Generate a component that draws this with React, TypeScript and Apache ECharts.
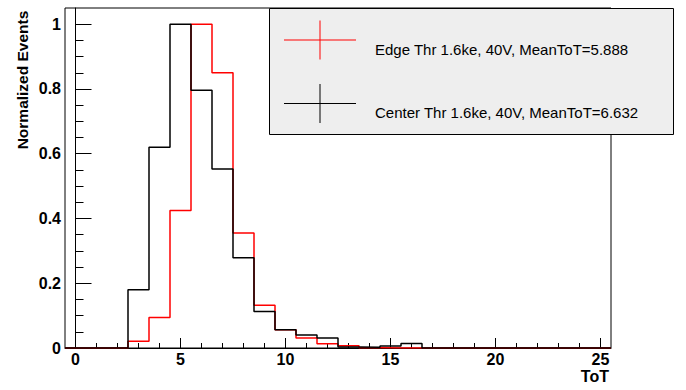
import React, { useEffect, useRef } from "react";
import * as echarts from "echarts";

// Bin centres (bin width 1, edges at half-integers)
const binCenters = [0, 1, 2, 3, 4, 5, 6, 7, 8, 9, 10, 11, 12, 13, 14, 15, 16, 17, 18, 19, 20, 21, 22, 23, 24, 25];
const edgeValues = [0, 0, 0, 0.021, 0.094, 0.425, 1.0, 0.85, 0.355, 0.132, 0.056, 0.031, 0.013, 0.007, 0.001, 0, 0, 0, 0, 0, 0, 0, 0, 0, 0, 0];
const centerValues = [0, 0, 0, 0.18, 0.62, 1.0, 0.796, 0.553, 0.279, 0.113, 0.056, 0.04, 0.031, 0.003, 0.002, 0.006, 0.014, 0, 0, 0, 0, 0, 0, 0, 0, 0];

const xMajorTicks = [0, 5, 10, 15, 20, 25];
const xMinorTicks = [0, 1, 2, 3, 4, 5, 6, 7, 8, 9, 10, 11, 12, 13, 14, 15, 16, 17, 18, 19, 20, 21, 22, 23, 24, 25];
const yMajorTicks = [0, 0.2, 0.4, 0.6, 0.8, 1];
const yMinorTicks = [0, 0.05, 0.1, 0.15, 0.2, 0.25, 0.3, 0.35, 0.4, 0.45, 0.5, 0.55, 0.6, 0.65, 0.7, 0.75, 0.8, 0.85, 0.9, 0.95, 1];

const legendLabels = ["Edge Thr 1.6ke, 40V, MeanToT=5.888", "Center Thr 1.6ke, 40V, MeanToT=6.632"];
const seriesColors = ["#ff0000", "#000000"];

const X_MIN = -0.5;
const X_MAX = 25.5;
const Y_MIN = 0;
const Y_MAX = 1.05;

function toSteps(values: number[]): number[][] {
  const pts: number[][] = [[X_MIN, 0]];
  values.forEach((v, i) => {
    pts.push([binCenters[i] - 0.5, v]);
    pts.push([binCenters[i] + 0.5, v]);
  });
  pts.push([X_MAX, 0]);
  return pts;
}

const FONT = "'Liberation Sans', Arial, Helvetica, sans-serif";

export default function App() {
  const ref = useRef<HTMLDivElement>(null);

  useEffect(() => {
    if (!ref.current) return;
    const chart = echarts.init(ref.current, undefined, { renderer: "svg" });

    const legendX = 269.5;
    const legendY = 8.5;
    const crossCx = 320;
    const rowY = [40, 103.5];
    const textY = [49, 112.5];

    const legendGraphics: any[] = [
      {
        type: "rect",
        z: 100,
        shape: { x: legendX, y: legendY, width: 404, height: 126 },
        style: { fill: "#eeeeee", stroke: "#000", lineWidth: 1 },
      },
    ];
    legendLabels.forEach((label, i) => {
      legendGraphics.push({
        type: "line",
        z: 101,
        shape: { x1: 284, y1: rowY[i], x2: 356, y2: rowY[i] },
        style: { stroke: seriesColors[i], lineWidth: 1 },
      });
      legendGraphics.push({
        type: "line",
        z: 101,
        shape: { x1: crossCx, y1: rowY[i] - 19.5, x2: crossCx, y2: rowY[i] + 19.5 },
        style: { stroke: seriesColors[i], lineWidth: 1 },
      });
      legendGraphics.push({
        type: "text",
        z: 101,
        x: 375,
        y: textY[i],
        style: {
          text: label,
          fill: "#000",
          font: `15px ${FONT}`,
          textAlign: "left",
          textVerticalAlign: "middle",
        },
      });
    });

    chart.setOption({
      animation: false,
      backgroundColor: "#ffffff",
      grid: {
        left: 65,
        top: 8,
        width: 546,
        height: 340,
        show: true,
        borderColor: "#000",
        borderWidth: 1,
        backgroundColor: "transparent",
      },
      xAxis: [
        {
          type: "value",
          min: X_MIN,
          max: X_MAX,
          position: "bottom",
          axisLine: { show: true, lineStyle: { color: "#000", width: 1 } },
          splitLine: { show: false },
          axisTick: {
            show: true,
            inside: true,
            length: 10,
            customValues: xMajorTicks,
            lineStyle: { color: "#000", width: 1 },
          },
          axisLabel: {
            show: true,
            customValues: xMajorTicks,
            margin: 3,
            color: "#000",
            fontFamily: FONT,
            fontWeight: "bold",
            fontSize: 16,
          },
        },
        {
          type: "value",
          min: X_MIN,
          max: X_MAX,
          position: "bottom",
          axisLine: { show: false },
          splitLine: { show: false },
          axisTick: {
            show: true,
            inside: true,
            length: 5,
            customValues: xMinorTicks,
            lineStyle: { color: "#000", width: 1 },
          },
          axisLabel: { show: false },
        },
      ],
      yAxis: [
        {
          type: "value",
          min: Y_MIN,
          max: Y_MAX,
          position: "left",
          axisLine: { show: true, lineStyle: { color: "#000", width: 1 } },
          splitLine: { show: false },
          axisTick: {
            show: true,
            inside: true,
            length: 16,
            customValues: yMajorTicks,
            lineStyle: { color: "#000", width: 1 },
          },
          axisLabel: {
            show: true,
            customValues: yMajorTicks,
            margin: 4,
            color: "#000",
            fontFamily: FONT,
            fontWeight: "bold",
            fontSize: 16,
          },
        },
        {
          type: "value",
          min: Y_MIN,
          max: Y_MAX,
          position: "left",
          axisLine: { show: false },
          splitLine: { show: false },
          axisTick: {
            show: true,
            inside: true,
            length: 8,
            customValues: yMinorTicks,
            lineStyle: { color: "#000", width: 1 },
          },
          axisLabel: { show: false },
        },
      ],
      series: [
        {
          name: legendLabels[0],
          type: "line",
          xAxisIndex: 0,
          yAxisIndex: 0,
          data: toSteps(edgeValues),
          symbol: "none",
          showSymbol: false,
          clip: true,
          z: 3,
          lineStyle: { color: seriesColors[0], width: 1.5 },
        },
        {
          name: legendLabels[1],
          type: "line",
          xAxisIndex: 0,
          yAxisIndex: 0,
          data: toSteps(centerValues),
          symbol: "none",
          showSymbol: false,
          clip: true,
          z: 4,
          lineStyle: { color: seriesColors[1], width: 1.5 },
        },
      ],
      graphic: [
        {
          type: "text",
          x: 22,
          y: 80,
          rotation: Math.PI / 2,
          style: {
            text: "Normalized Events",
            fill: "#000",
            font: `bold 15.5px ${FONT}`,
            textAlign: "center",
            textVerticalAlign: "middle",
          },
        },
        {
          type: "text",
          x: 609,
          y: 376,
          style: {
            text: "ToT",
            fill: "#000",
            font: `bold 16px ${FONT}`,
            textAlign: "right",
            textVerticalAlign: "middle",
          },
        },
        ...legendGraphics,
      ],
    });

    return () => {
      chart.dispose();
    };
  }, []);

  return (
    <div style={{ position: "fixed", left: 0, top: 0, width: 686, height: 390, background: "#fff" }}>
      <div ref={ref} style={{ width: 686, height: 390 }} />
    </div>
  );
}
